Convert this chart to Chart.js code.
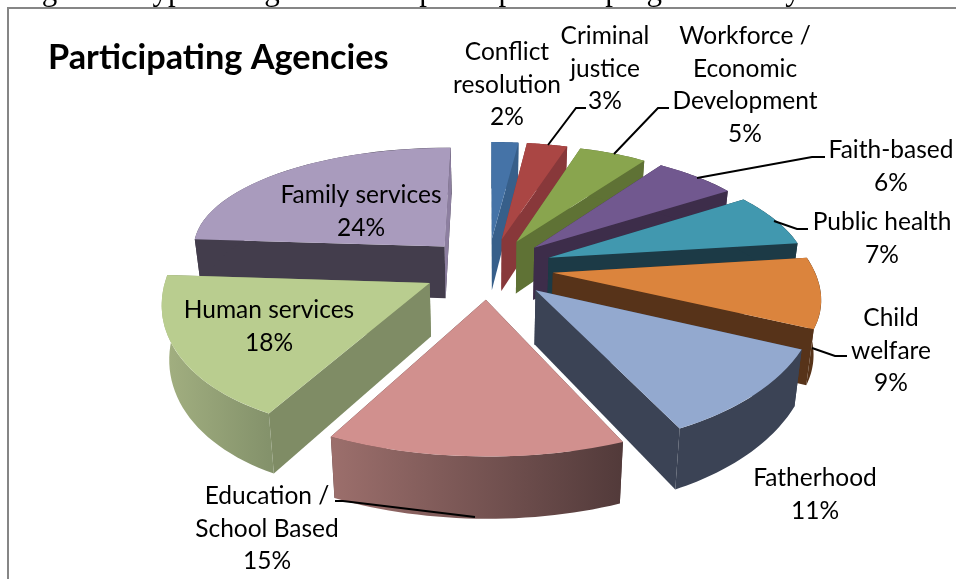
<!DOCTYPE html>
<html lang="en">
<head>
  <title>Participating Agencies</title>
  <script src="https://cdn.jsdelivr.net/npm/chart.js"></script>
  <style>
    html, body { margin: 0; padding: 0; background: #fff; overflow: hidden; }
    canvas { display: block; }
  </style>
</head>
<body>
  <canvas id="agencyChart" width="956" height="579"></canvas>

  <script>
    // data
    const categories = ['Conflict resolution', 'Criminal justice', 'Workforce / Economic Development', 'Faith-based',
      'Public health', 'Child welfare', 'Fatherhood', 'Education / School Based', 'Human services', 'Family services'];
    const shares = [2, 3, 5, 6, 7, 9, 11, 15, 18, 24];
    const labelLines = [['Conflict', 'resolution'], ['Criminal', 'justice'], ['Workforce /', 'Economic', 'Development'], ['Faith-based'],
      ['Public health'], ['Child', 'welfare'], ['Fatherhood'], ['Education /', 'School Based'], ['Human services'], ['Family services']];
    const chartTitle = 'Participating Agencies';
    const pageCaption = 'Figure 1. Types of agencies that participated in program survey';

    // styling
    const topColors = ['#4573a7', '#aa4644', '#89a54e', '#71588f', '#4198af', '#db843d', '#93a9cf', '#d1908e', '#b9cd8f', '#a99bbd'];
    const wallColors = ['#375f8a', '#88383a', '#5f7235', '#3d2d4a', '#1c3a46', '#573319', '#3b4355', '#523a3a', '#7f8c65', '#433d4c'];
    const endWallColors = { 9: '#8d7fa0' };
    const rimGradients = { 7: ['#9c6f6c', '#523a3a'], 8: ['#a3b081', '#84926b'] };
    const labelSpots = [[507, 52], [605, 36], [745, 36], [891, 150], [882, 222], [891, 318], [815, 478], [267, 496], [269, 310], [361, 195]];
    const leaders = [
      [[586, 108], [576, 108], [548, 145]],
      [[669, 108], [658, 108], [614, 154]],
      [[825, 157], [812, 157], [697, 178]],
      [[808, 229], [797, 229], [774, 221]],
      [[847, 356], [835, 356], [812, 348]],
      [[335, 501], [343, 501], [475, 517]]
    ];

    // view of the pie: explode is a share of the radius, the others set the tilt and perspective
    const explode = 0.25;
    const tilt = 0.4665;
    const perspective = 0.166;
    const depthAtTop = 39.5;
    const depthGrowth = 0.05;
    const bottomShrink = 0.977;

    function project(arc, x, z) {
      const w = 1 - perspective * z;
      return [arc.x + arc.outerRadius * x / w, arc.y + arc.outerRadius * tilt * z / w];
    }

    // affine map that sends the flat arc onto its tilted, exploded sector
    function sectorMap(arc) {
      const mid = (arc.startAngle + arc.endAngle) / 2;
      const ox = explode * Math.cos(mid), oz = explode * Math.sin(mid);
      const apex = project(arc, ox, oz);
      const p1 = project(arc, ox + Math.cos(arc.startAngle), oz + Math.sin(arc.startAngle));
      const p2 = project(arc, ox + Math.cos(arc.endAngle), oz + Math.sin(arc.endAngle));
      const r = arc.outerRadius;
      const u1 = [r * Math.cos(arc.startAngle), r * Math.sin(arc.startAngle)];
      const u2 = [r * Math.cos(arc.endAngle), r * Math.sin(arc.endAngle)];
      const v1 = [p1[0] - apex[0], p1[1] - apex[1]];
      const v2 = [p2[0] - apex[0], p2[1] - apex[1]];
      const det = u1[0] * u2[1] - u2[0] * u1[1];
      const a = (v1[0] * u2[1] - v2[0] * u1[1]) / det;
      const c = (v2[0] * u1[0] - v1[0] * u2[0]) / det;
      const b = (v1[1] * u2[1] - v2[1] * u1[1]) / det;
      const d = (v2[1] * u1[0] - v1[1] * u2[0]) / det;
      return { a, b, c, d, e: apex[0] - a * arc.x - c * arc.y, f: apex[1] - b * arc.x - d * arc.y, apex };
    }

    // same point on the underside of the slice, deeper towards the viewer
    function lower(arc, p) {
      return [arc.x + (p[0] - arc.x) * bottomShrink, p[1] + depthAtTop + p[1] * depthGrowth];
    }

    function fillPoly(ctx, pts, fill) {
      ctx.beginPath();
      pts.forEach((p, i) => i ? ctx.lineTo(p[0], p[1]) : ctx.moveTo(p[0], p[1]));
      ctx.closePath();
      ctx.fillStyle = fill;
      ctx.fill();
    }

    function drawSlice(ctx, arc, index) {
      const m = sectorMap(arc);
      const rim = [];
      for (let i = 0; i <= 30; i++) {
        const t = arc.startAngle + (arc.endAngle - arc.startAngle) * i / 30;
        const px = arc.x + arc.outerRadius * Math.cos(t), py = arc.y + arc.outerRadius * Math.sin(t);
        rim.push([m.a * px + m.c * py + m.e, m.b * px + m.d * py + m.f]);
      }
      const wall = wallColors[index];
      const first = rim[0], last = rim[rim.length - 1];
      const face = (to, fill) => fillPoly(ctx, [m.apex, to, lower(arc, to), lower(arc, m.apex)], fill);
      // the two cut faces, the upper one first
      [first, last].sort((p, q) => p[1] - q[1]).forEach(to => face(to, wall));
      // outer rim
      let rimFill = wall;
      if (rimGradients[index]) {
        const xs = rim.map(p => p[0]);
        const grad = ctx.createLinearGradient(Math.min(...xs), 0, Math.max(...xs), 0);
        grad.addColorStop(0, rimGradients[index][0]);
        grad.addColorStop(1, rimGradients[index][1]);
        rimFill = grad;
      }
      fillPoly(ctx, rim.concat(rim.map(p => lower(arc, p)).reverse()), rimFill);
      // lit end face of the back slice
      if (endWallColors[index]) face(last, endWallColors[index]);
      // top face comes from the library's own arc
      ctx.save();
      ctx.transform(m.a, m.b, m.c, m.d, m.e, m.f);
      arc.draw(ctx);
      ctx.restore();
    }

    const pie3d = {
      id: 'pie3d',
      beforeDatasetDraw(chart, args) {
        const ctx = chart.ctx;
        const arcs = args.meta.data.map((arc, i) => ({ arc, i }));
        arcs.sort((p, q) => Math.sin((p.arc.startAngle + p.arc.endAngle) / 2) - Math.sin((q.arc.startAngle + q.arc.endAngle) / 2));
        arcs.forEach(o => drawSlice(ctx, o.arc, o.i));
        return false;
      },
      afterDraw(chart) {
        const ctx = chart.ctx;
        ctx.save();
        // caption of the page, cut off by the window
        ctx.fillStyle = '#000';
        ctx.textAlign = 'left';
        ctx.textBaseline = 'alphabetic';
        ctx.font = '31px "Liberation Serif"';
        ctx.fillText(pageCaption, 16, 0);
        // frame
        ctx.strokeStyle = '#868686';
        ctx.lineWidth = 2;
        ctx.beginPath();
        ctx.moveTo(8, 579);
        ctx.lineTo(8, 8);
        ctx.lineTo(956, 8);
        ctx.stroke();
        // title
        ctx.font = '700 34.3px Lato';
        ctx.textBaseline = 'middle';
        ctx.fillText(chartTitle, 48, 58);
        // leaders
        ctx.strokeStyle = '#000';
        ctx.lineWidth = 2;
        leaders.forEach(line => {
          ctx.beginPath();
          line.forEach((p, i) => i ? ctx.lineTo(p[0], p[1]) : ctx.moveTo(p[0], p[1]));
          ctx.stroke();
        });
        // labels
        ctx.font = '24.5px Lato';
        ctx.textAlign = 'center';
        labelLines.forEach((lines, i) => {
          const spot = labelSpots[i];
          lines.concat(shares[i] + '%').forEach((text, n) => ctx.fillText(text, spot[0], spot[1] + n * 32.7));
        });
        ctx.restore();
      }
    };

    new Chart(document.getElementById('agencyChart'), {
      type: 'pie',
      data: {
        labels: categories,
        datasets: [{ data: shares, backgroundColor: topColors, borderWidth: 0 }]
      },
      options: {
        responsive: false,
        animation: false,
        layout: { padding: { left: 20, right: 0, top: 7, bottom: 50 } },
        plugins: { legend: { display: false }, tooltip: { enabled: false } }
      },
      plugins: [pie3d]
    });
  </script>
</body>
</html>
